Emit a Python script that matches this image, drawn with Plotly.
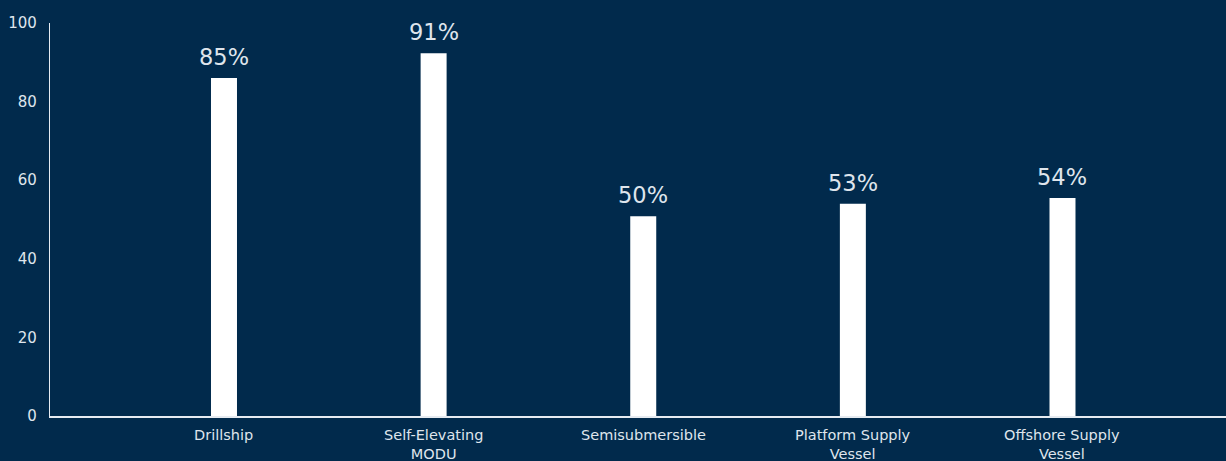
import plotly.graph_objects as go

categories = ["Drillship", "Self-Elevating<br>MODU", "Semisubmersible",
              "Platform Supply<br>Vessel", "Offshore Supply<br>Vessel"]
values = [86.0, 92.3, 50.8, 54.0, 55.5]
labels = ["85%", "91%", "50%", "53%", "54%"]
y_ticks = [0, 20, 40, 60, 80, 100]

BG = "#012a4c"
TXT = "#dfe5ec"
FONT = "DejaVu Sans"

fig = go.Figure()
fig.add_trace(go.Bar(
    x=list(range(len(categories))), y=values,
    marker=dict(color="#ffffff", line=dict(width=0)),
    width=0.124, hoverinfo="skip",
))

for i, (v, t) in enumerate(zip(values, labels)):
    fig.add_annotation(x=i, y=v, text=t, showarrow=False, yanchor="bottom",
                       yshift=6, font=dict(family=FONT, size=22.5, color=TXT))

# category labels
for i, cat in enumerate(categories):
    fig.add_annotation(x=i, xref="x", y=0, yref="paper", text=cat,
                       showarrow=False, yanchor="top", borderpad=0,
                       yshift=-10,
                       font=dict(family=FONT, size=14.5, color=TXT))

fig.update_layout(
    width=1226, height=461,
    paper_bgcolor=BG, plot_bgcolor=BG,
    margin=dict(l=50, r=0, t=23, b=45),
    showlegend=False,
    font=dict(family=FONT, size=15, color=TXT),
)
fig.update_xaxes(
    range=[-0.83, 4.78],
    tickvals=list(range(len(categories))), showticklabels=False,
    showgrid=False, zeroline=False,
    showline=True, linecolor="#e6ebf1", linewidth=1.5,
    ticks="",
)
fig.update_yaxes(
    range=[0, 100], tickmode="array", tickvals=y_ticks,
    showgrid=False, zeroline=False,
    showline=True, linecolor="#e6ebf1", linewidth=1.2,
    ticks="", ticklabelstandoff=9,
    tickfont=dict(family=FONT, size=15, color=TXT),
)

fig.write_html("out.html", config={"displayModeBar": False},
               post_script="document.body.style.margin='0';")
